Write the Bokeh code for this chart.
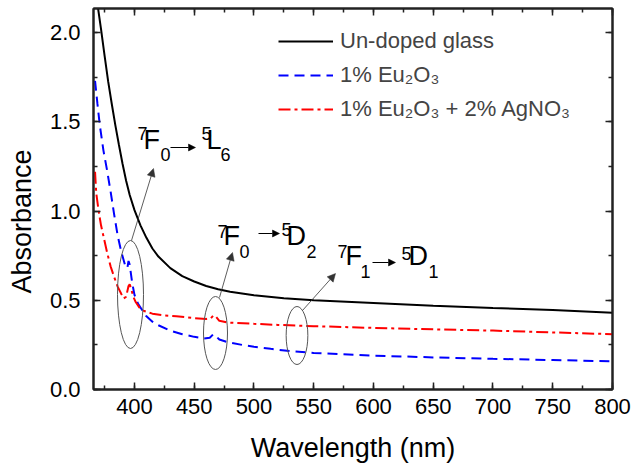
from bokeh.plotting import figure
from bokeh.models import (LinearAxis, SingleIntervalTicker, Range1d, Legend,
                          LegendItem, Arrow, NormalHead, NumeralTickFormatter,
                          CustomJSTickFormatter)
from bokeh.core.properties import value
from bokeh.embed import file_html
from bokeh.resources import INLINE

FONT = "Liberation Sans"

# ---------------- data ----------------
wl_undoped = [366, 369, 372, 375, 378, 381, 384, 387, 390, 393, 396, 400, 405,
              410, 415, 420, 430, 440, 450, 460, 470, 480, 500, 525, 550, 600,
              650, 700, 750, 800]
abs_undoped = [2.32, 2.16, 2.02, 1.87, 1.725, 1.60, 1.48, 1.37, 1.265, 1.17,
               1.09, 1.005, 0.92, 0.85, 0.79, 0.745, 0.68, 0.635, 0.605, 0.58,
               0.562, 0.548, 0.528, 0.512, 0.50, 0.485, 0.47, 0.457, 0.445, 0.43]

wl_eu = [367, 369, 371, 374, 377, 380, 383, 386, 389, 392, 394, 395, 396, 398,
         400, 403, 406, 410, 415, 420, 430, 440, 450, 458, 463, 466, 468, 471,
         478, 490, 500, 514, 530, 550, 600, 650, 700, 750, 800]
abs_eu = [1.73, 1.60, 1.48, 1.34, 1.23, 1.11, 0.98, 0.86, 0.77, 0.70, 0.68,
          0.72, 0.70, 0.60, 0.53, 0.48, 0.45, 0.41, 0.38, 0.36, 0.33, 0.31,
          0.295, 0.286, 0.29, 0.31, 0.30, 0.28, 0.265, 0.25, 0.24, 0.228,
          0.215, 0.205, 0.19, 0.18, 0.172, 0.165, 0.158]

wl_euag = [367, 368, 370, 372, 374, 377, 380, 383, 386, 389, 391, 393, 395,
           396, 397, 399, 401, 404, 408, 415, 425, 435, 450, 460, 464, 466,
           468, 471, 478, 500, 520, 550, 600, 650, 700, 750, 800]
abs_euag = [1.22, 1.10, 1.00, 0.92, 0.86, 0.77, 0.69, 0.63, 0.575, 0.535,
            0.51, 0.52, 0.58, 0.59, 0.57, 0.52, 0.49, 0.46, 0.44, 0.425, 0.415,
            0.41, 0.40, 0.395, 0.40, 0.415, 0.41, 0.385, 0.375, 0.368, 0.362,
            0.355, 0.345, 0.337, 0.33, 0.32, 0.31]

series_labels = ["Un-doped glass", "1% Eu\u2082O\u2083",
                 "1% Eu\u2082O\u2083 + 2% AgNO\u2083"]
x_label = "Wavelength (nm)"
y_label = "Absorbance"

# ---------------- layout ----------------
X0, X1 = 365.7, 800.0
Y0, Y1 = 0.0, 2.135
FL, FT, FW, FH = 93, 8, 519, 381


def px_x(px):
    return X0 + (px - FL) / FW * (X1 - X0)


def px_y(py):
    return Y1 - (py - FT) / FH * (Y1 - Y0)


def dx(w):
    return w / FW * (X1 - X0)


def dy(h):
    return h / FH * (Y1 - Y0)


p = figure(frame_width=FW, frame_height=FH, min_border_left=FL,
           min_border_top=FT, min_border_right=632 - FL - FW,
           min_border_bottom=464 - FT - FH,
           x_range=Range1d(X0, X1), y_range=Range1d(Y0, Y1),
           x_axis_location=None, y_axis_location=None,
           output_backend="svg", toolbar_location=None,
           background_fill_color="white", border_fill_color="white")
p.grid.visible = False
p.outline_line_color = "#222222"
p.outline_line_width = 2

xt = SingleIntervalTicker(interval=50, num_minor_ticks=2)
yt = SingleIntervalTicker(interval=0.5, num_minor_ticks=2)
blank = CustomJSTickFormatter(code="return ''")

ax_bottom = LinearAxis(ticker=xt, axis_label=x_label)
ax_left = LinearAxis(ticker=yt, axis_label=y_label + "\u00a0" * 6,
                     formatter=NumeralTickFormatter(format="0.0"))
ax_top = LinearAxis(ticker=xt, formatter=blank, major_label_standoff=0,
                    major_label_text_font_size="1px")
ax_right = LinearAxis(ticker=yt, formatter=blank, major_label_standoff=0,
                      major_label_text_font_size="1px")
p.add_layout(ax_bottom, "below")
p.add_layout(ax_left, "left")
p.add_layout(ax_top, "above")
p.add_layout(ax_right, "right")

for ax in (ax_bottom, ax_left, ax_top, ax_right):
    ax.axis_line_color = "#222222"
    ax.axis_line_width = 2
    ax.major_tick_in = 7
    ax.major_tick_out = 0
    ax.minor_tick_in = 4
    ax.minor_tick_out = 0
    ax.major_tick_line_color = "#222222"
    ax.minor_tick_line_color = "#222222"
    ax.major_tick_line_width = 1.5
    ax.minor_tick_line_width = 1.5
    ax.major_label_text_font = FONT
    ax.major_label_text_color = "black"
    ax.axis_label_text_font = FONT
    ax.axis_label_text_font_style = "normal"
    ax.axis_label_text_color = "black"

for ax in (ax_bottom, ax_left):
    ax.major_label_text_font_size = "22px"
    ax.axis_label_text_font_size = "27px"
ax_bottom.major_label_standoff = 9
ax_left.major_label_standoff = 13
ax_bottom.axis_label_standoff = 16
ax_left.axis_label_standoff = 10

r0 = p.line(wl_undoped, abs_undoped, line_color="black", line_width=2)
r1 = p.line(wl_eu, abs_eu, line_color="#0000ff", line_width=2,
            line_dash="10 6")
r2 = p.line(wl_euag, abs_euag, line_color="#ff0000", line_width=2,
            line_dash="12 4 3 4")

legend = Legend(items=[LegendItem(label=series_labels[0], renderers=[r0]),
                       LegendItem(label=series_labels[1], renderers=[r1]),
                       LegendItem(label=series_labels[2], renderers=[r2])],
                location=(278 - FL, FT + FH - 122), padding=0, margin=0,
                spacing=8, glyph_width=55, glyph_height=26, label_height=26,
                label_standoff=7, label_text_font=FONT,
                label_text_font_size="22px", border_line_alpha=0,
                background_fill_alpha=0)
p.add_layout(legend, "center")

# ---------------- annotations ----------------
ellipses = [(130, 294, 26, 108), (215, 332.5, 24, 73), (296.5, 335, 21.7, 58)]
p.ellipse(x=[px_x(e[0]) for e in ellipses], y=[px_y(e[1]) for e in ellipses],
          width=[dx(e[2]) for e in ellipses],
          height=[dy(e[3]) for e in ellipses],
          fill_alpha=0, line_color="#555555", line_width=1)

pointers = [((131, 240), (153, 168)), ((219, 297), (232, 252)),
            ((302, 310), (335, 273))]
for (sx, sy), (ex, ey) in pointers:
    p.add_layout(Arrow(end=NormalHead(size=8, fill_color="#333333",
                                      line_color="#333333", line_width=0.5),
                       x_start=px_x(sx), y_start=px_y(sy),
                       x_end=px_x(ex), y_end=px_y(ey),
                       line_color="#333333", line_width=0.8))

text_arrows = [((170, 147), (195, 147)), ((258, 233), (279, 233)),
               ((372, 262), (395, 262))]
for (sx, sy), (ex, ey) in text_arrows:
    p.add_layout(Arrow(end=NormalHead(size=7, fill_color="black",
                                      line_color="black", line_width=0.5),
                       x_start=px_x(sx), y_start=px_y(sy),
                       x_end=px_x(ex), y_end=px_y(ey),
                       line_color="black", line_width=1))

MAIN_SHIFT = -11.5
SCRIPT_SHIFT = -4
main_pieces = [("F", 143, 151), ("L", 206, 151),
               ("F", 223, 247), ("D", 286, 247),
               ("F", 345, 267), ("D", 408, 267)]
script_pieces = [("7", 137, 137), ("0", 160, 158), ("5", 201, 137),
                 ("6", 220, 158),
                 ("7", 217, 235), ("0", 239, 255), ("5", 281, 233),
                 ("2", 306, 255),
                 ("7", 337, 255), ("1", 360, 275), ("5", 401, 257),
                 ("1", 428, 275)]
p.text(x=[px_x(t[1]) for t in main_pieces],
       y=[px_y(t[2] + MAIN_SHIFT) for t in main_pieces],
       text=[t[0] for t in main_pieces], text_font=value(FONT),
       text_font_size="27px", text_baseline="alphabetic", text_color="black")
p.text(x=[px_x(t[1]) for t in script_pieces],
       y=[px_y(t[2] + SCRIPT_SHIFT) for t in script_pieces],
       text=[t[0] for t in script_pieces], text_font=value(FONT),
       text_font_size="18px", text_baseline="alphabetic", text_color="black")

open("out.html", "w").write(file_html(p, INLINE))
